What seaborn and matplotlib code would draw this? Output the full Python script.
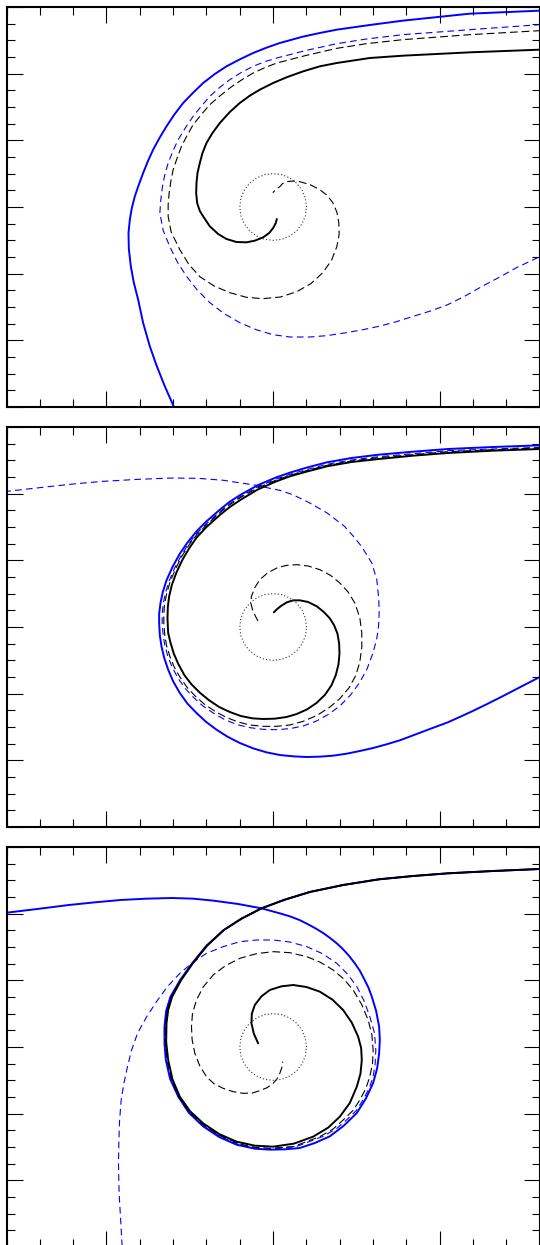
import matplotlib
matplotlib.use("Agg")
import matplotlib.pyplot as plt
from matplotlib.ticker import MultipleLocator
import seaborn as sns

# unit circle (dotted), same in every panel
circle_x = [1.0, 0.97, 0.87, 0.71, 0.5, 0.26, 0.0, -0.26, -0.5, -0.71, -0.87, -0.97,
            -1.0, -0.97, -0.87, -0.71, -0.5, -0.26, 0.0, 0.26, 0.5, 0.71, 0.87, 0.97, 1.0]
circle_y = [0.0, 0.26, 0.5, 0.71, 0.87, 0.97, 1.0, 0.97, 0.87, 0.71, 0.5, 0.26,
            0.0, -0.26, -0.5, -0.71, -0.87, -0.97, -1.0, -0.97, -0.87, -0.71, -0.5, -0.26, 0.0]

# ---- panel 1 ----
p1_ksolid_x = [8.3, 8.0, 5.9, 3.90, 2.90, 1.91, 1.40, 0.90, 0.40, 0.0, -0.40, -0.70, -1.0,
               -1.30, -1.60, -1.82, -2.0, -2.12, -2.20, -2.27, -2.30, -2.31, -2.28, -2.20, -2.10,
               -1.90, -1.65, -1.40, -1.10, -0.80, -0.55, -0.30, -0.12, 0.0, 0.08, 0.11]
p1_ksolid_y = [4.74, 4.72, 4.64, 4.54, 4.47, 4.32, 4.22, 4.07, 3.89, 3.72, 3.52, 3.34, 3.12,
               2.85, 2.52, 2.22, 1.92, 1.62, 1.32, 1.02, 0.72, 0.42, 0.12, -0.12, -0.28,
               -0.58, -0.81, -0.96, -1.05, -1.06, -1.01, -0.91, -0.78, -0.63, -0.48, -0.36]
p1_kdash_x = [8.3, 8.0, 5.9, 3.89, 2.8, 1.91, 1.0, 0.11, -0.25, -0.60, -0.95, -1.30, -1.60, -1.90,
              -2.15, -2.40, -2.58, -2.75, -2.88, -3.00, -3.07, -3.12, -3.15, -3.15, -3.06, -2.80,
              -2.53, -2.20, -1.77, -1.30, -0.80, -0.31, 0.22, 0.71, 1.13, 1.49, 1.75, 1.91, 1.98,
              1.97, 1.91, 1.79, 1.62, 1.40, 1.11, 0.80, 0.60, 0.41, 0.28, 0.20, 0.08, -0.01]
p1_kdash_y = [5.30, 5.29, 5.17, 5.02, 4.90, 4.76, 4.55, 4.32, 4.18, 4.02, 3.81, 3.57, 3.33, 3.07,
              2.78, 2.47, 2.15, 1.82, 1.47, 1.12, 0.77, 0.42, 0.07, -0.28, -0.75, -1.28,
              -1.72, -2.09, -2.37, -2.57, -2.71, -2.75, -2.70, -2.54, -2.30, -1.97, -1.60, -1.19,
              -0.82, -0.47, -0.15, 0.13, 0.35, 0.52, 0.67, 0.76, 0.78, 0.76, 0.70, 0.61, 0.52, 0.43]
p1_bdash_x = [8.3, 8.0, 5.9, 3.89, 2.8, 1.91, 1.0, 0.11, -0.25, -0.60, -0.95, -1.30, -1.60, -1.90,
              -2.15, -2.40, -2.63, -2.85, -3.01, -3.15, -3.25, -3.32, -3.37, -3.40, -3.30, -3.10,
              -2.87, -2.59, -2.27, -1.90, -1.47, -1.00, -0.51, -0.01, 0.50, 1.10, 1.60, 2.14,
              2.65, 3.17, 3.70, 4.20, 4.72, 5.24, 5.76, 6.27, 6.80, 7.30, 8.0, 8.3]
p1_bdash_y = [5.48, 5.47, 5.32, 5.17, 5.04, 4.90, 4.70, 4.47, 4.36, 4.22, 4.04, 3.82, 3.59, 3.32,
              3.03, 2.72, 2.38, 2.02, 1.67, 1.32, 0.97, 0.62, 0.22, -0.18, -0.70, -1.19,
              -1.66, -2.09, -2.50, -2.87, -3.20, -3.47, -3.68, -3.83, -3.90, -3.90, -3.86, -3.78,
              -3.69, -3.58, -3.44, -3.28, -3.12, -2.93, -2.67, -2.38, -2.10, -1.82, -1.49, -1.35]
p1_bsolid_x = [8.3, 8.0, 5.9, 3.89, 2.9, 1.91, 1.40, 0.89, 0.20, -0.20, -0.60, -1.00, -1.40, -1.75,
               -2.10, -2.40, -2.70, -2.96, -3.20, -3.41, -3.60, -3.76, -3.90, -4.03, -4.15, -4.24,
               -4.30, -4.34, -4.33, -4.27, -4.18, -4.05, -3.90, -3.70, -3.50, -3.25, -2.98, -2.90]
p1_bsolid_y = [5.90, 5.89, 5.80, 5.59, 5.46, 5.32, 5.22, 5.11, 4.92, 4.78, 4.62, 4.43, 4.22, 3.99,
               3.72, 3.43, 3.12, 2.78, 2.42, 2.07, 1.72, 1.37, 1.02, 0.67, 0.32, -0.03,
               -0.38, -0.78, -1.25, -1.78, -2.27, -2.78, -3.48, -4.18, -4.75, -5.38, -5.99, -6.15]

# ---- panel 2 ----
p2_ksolid_x = [8.3, 8.0, 6.6, 5.24, 4.2, 3.17, 2.35, 1.61, 1.0, 0.5, 0.07, -0.47, -0.97, -1.30,
               -1.60, -2.00, -2.30, -2.52, -2.72, -2.90, -3.04, -3.12, -3.16, -3.17, -3.15, -3.08,
               -2.98, -2.85, -2.66, -2.45, -2.20, -1.92, -1.62, -1.30, -0.97, -0.62, -0.30, 0.05,
               0.40, 0.71, 1.02, 1.30, 1.55, 1.75, 1.88, 1.96, 1.99, 1.98, 1.93, 1.83, 1.70, 1.52,
               1.31, 1.05, 0.80, 0.60, 0.41, 0.25, 0.12, 0.02]
p2_ksolid_y = [5.35, 5.34, 5.29, 5.22, 5.14, 5.04, 4.95, 4.82, 4.66, 4.52, 4.36, 4.12, 3.82, 3.60,
               3.36, 3.00, 2.68, 2.36, 2.02, 1.64, 1.26, 0.92, 0.60, 0.25, -0.18, -0.47,
               -0.80, -1.10, -1.45, -1.72, -1.97, -2.20, -2.40, -2.55, -2.67, -2.74, -2.76, -2.75,
               -2.70, -2.61, -2.47, -2.28, -2.04, -1.75, -1.44, -1.12, -0.80, -0.50, -0.20, 0.05,
               0.26, 0.45, 0.62, 0.75, 0.80, 0.80, 0.74, 0.64, 0.54, 0.44]
p2_kdash_x = [8.3, 8.0, 6.6, 5.24, 4.2, 3.17, 2.35, 1.61, 1.0, 0.5, 0.07, -0.47, -0.97, -1.30,
              -1.60, -2.00, -2.30, -2.54, -2.74, -2.93, -3.09, -3.19, -3.26, -3.28, -3.28, -3.25,
              -3.20, -3.10, -2.97, -2.80, -2.59, -2.35, -2.07, -1.76, -1.43, -1.08, -0.70, -0.30,
              0.10, 0.50, 0.90, 1.30, 1.68, 2.0, 2.28, 2.48, 2.60, 2.66, 2.66, 2.60, 2.45, 2.25,
              2.0, 1.72, 1.40, 1.05, 0.71, 0.40, 0.11, -0.17, -0.40, -0.55, -0.65, -0.67, -0.62,
              -0.53, -0.42]
p2_kdash_y = [5.38, 5.37, 5.32, 5.26, 5.17, 5.08, 4.98, 4.85, 4.69, 4.55, 4.40, 4.17, 3.89, 3.67,
              3.43, 3.06, 2.76, 2.44, 2.12, 1.74, 1.36, 1.02, 0.69, 0.37, 0.10, -0.25,
              -0.55, -0.88, -1.20, -1.50, -1.80, -2.06, -2.31, -2.52, -2.70, -2.84, -2.94, -2.98,
              -2.98, -2.94, -2.83, -2.66, -2.42, -2.15, -1.82, -1.45, -1.05, -0.60, -0.18, 0.28,
              0.72, 1.05, 1.32, 1.55, 1.72, 1.83, 1.87, 1.85, 1.77, 1.62, 1.42, 1.18, 0.92, 0.72,
              0.52, 0.32, 0.12]
p2_bdash_x = [8.3, 8.0, 6.6, 5.24, 4.2, 3.17, 2.35, 1.61, 1.0, 0.5, 0.07, -0.47, -0.97, -1.30,
              -1.60, -2.00, -2.30, -2.56, -2.76, -2.96, -3.12, -3.23, -3.30, -3.33, -3.33, -3.30,
              -3.25, -3.16, -3.03, -2.86, -2.65, -2.40, -2.12, -1.80, -1.45, -1.08, -0.70, -0.30,
              0.11, 0.50, 0.90, 1.30, 1.68, 2.02, 2.33, 2.60, 2.82, 2.98, 3.10, 3.16, 3.18, 3.17,
              3.11, 2.96, 2.65, 2.40, 2.14, 1.62, 1.10, 0.59, 0.20, -0.14, -0.55, -0.97, -1.48,
              -2.25, -3.03, -4.05, -5.10, -5.90, -6.65, -7.99, -8.3]
p2_bdash_y = [5.40, 5.39, 5.34, 5.29, 5.20, 5.11, 5.01, 4.88, 4.72, 4.58, 4.43, 4.20, 3.92, 3.70,
              3.46, 3.10, 2.80, 2.46, 2.14, 1.76, 1.38, 1.03, 0.70, 0.38, 0.10, -0.25,
              -0.55, -0.88, -1.20, -1.53, -1.83, -2.10, -2.36, -2.58, -2.78, -2.93, -3.02, -3.07,
              -3.08, -3.05, -2.97, -2.82, -2.61, -2.35, -2.03, -1.66, -1.25, -0.82, -0.40, 0.0,
              0.40, 0.82, 1.42, 1.92, 2.42, 2.73, 3.02, 3.42, 3.72, 3.97, 4.10, 4.17, 4.26, 4.32,
              4.40, 4.46, 4.47, 4.43, 4.37, 4.30, 4.22, 4.07, 4.03]
p2_bsolid_x = [8.3, 8.0, 6.6, 5.24, 4.2, 3.17, 2.35, 1.61, 1.0, 0.5, 0.07, -0.47, -0.97, -1.30,
               -1.60, -2.00, -2.30, -2.58, -2.80, -3.02, -3.20, -3.31, -3.38, -3.42, -3.42, -3.40,
               -3.35, -3.27, -3.15, -3.00, -2.80, -2.57, -2.30, -2.02, -1.70, -1.37, -1.0, -0.60,
               -0.20, 0.20, 0.60, 1.00, 1.40, 1.80, 2.21, 2.60, 3.0, 3.40, 3.80, 4.20, 4.70, 5.24,
               5.62, 6.01, 6.40, 6.78, 7.40, 8.0, 8.3]
p2_bsolid_y = [5.46, 5.45, 5.40, 5.34, 5.26, 5.17, 5.07, 4.94, 4.78, 4.63, 4.48, 4.25, 3.97, 3.76,
               3.52, 3.17, 2.87, 2.52, 2.20, 1.80, 1.40, 1.05, 0.72, 0.40, 0.12, -0.25,
               -0.58, -0.92, -1.28, -1.63, -1.98, -2.30, -2.58, -2.84, -3.08, -3.29, -3.48, -3.64,
               -3.76, -3.84, -3.88, -3.90, -3.89, -3.86, -3.80, -3.72, -3.63, -3.52, -3.40, -3.25,
               -3.06, -2.86, -2.69, -2.51, -2.32, -2.13, -1.81, -1.50, -1.34]

# ---- panel 3 ----
p3_ksolid_x = [8.3, 8.0, 6.6, 5.24, 4.2, 3.17, 2.1, 1.10, 0.35, -0.35, -0.95, -1.48, -1.98, -2.41,
               -2.76, -3.03, -3.15, -3.20, -3.21, -3.15, -3.02, -2.80, -2.49, -2.10, -1.62, -1.10,
               -0.55, 0.0, 0.62, 1.20, 1.65, 2.0, 2.30, 2.51, 2.62, 2.66, 2.64, 2.55, 2.36, 2.10,
               1.78, 1.40, 1.00, 0.60, 0.25, -0.10, -0.35, -0.55, -0.64, -0.65, -0.58, -0.45]
p3_ksolid_y = [5.35, 5.34, 5.28, 5.21, 5.13, 5.03, 4.86, 4.65, 4.42, 4.16, 3.85, 3.51, 3.04, 2.51,
               2.01, 1.51, 1.11, 0.71, 0.15, -0.39, -0.97, -1.49, -1.93, -2.29, -2.61, -2.84,
               -2.96, -2.99, -2.90, -2.69, -2.42, -2.09, -1.68, -1.19, -0.80, -0.39, -0.03, 0.31,
               0.73, 1.11, 1.42, 1.66, 1.80, 1.86, 1.82, 1.71, 1.52, 1.26, 1.00, 0.71, 0.40, 0.11]
p3_kdash_x = [8.3, 8.0, 6.6, 5.24, 4.2, 3.17, 2.1, 1.10, 0.35, -0.35, -0.95, -1.48, -1.99, -2.42,
              -2.77, -3.05, -3.18, -3.23, -3.23, -3.17, -3.04, -2.83, -2.52, -2.12, -1.60, -1.0,
              -0.55, -0.10, 0.60, 1.40, 1.80, 2.10, 2.40, 2.60, 2.78, 2.90, 2.98, 3.00, 2.96,
              2.85, 2.66, 2.40, 2.12, 1.80, 1.42, 1.01, 0.50, 0.0, -0.50, -1.0, -1.43, -1.80,
              -2.10, -2.30, -2.42, -2.45, -2.43, -2.35, -2.20, -2.0, -1.78, -1.50, -1.20, -0.90,
              -0.62, -0.40, -0.18, 0.0, 0.12, 0.20, 0.26, 0.29]
p3_kdash_y = [5.35, 5.34, 5.28, 5.21, 5.13, 5.03, 4.86, 4.65, 4.42, 4.16, 3.85, 3.51, 3.04, 2.51,
              2.01, 1.51, 1.08, 0.61, 0.10, -0.39, -0.98, -1.51, -1.95, -2.32, -2.66, -2.91,
              -3.01, -3.04, -2.99, -2.69, -2.46, -2.19, -1.90, -1.59, -1.25, -0.89, -0.50, -0.09,
              0.38, 0.81, 1.27, 1.71, 2.04, 2.31, 2.54, 2.71, 2.83, 2.86, 2.80, 2.66, 2.44, 2.16,
              1.80, 1.41, 1.01, 0.61, 0.21, -0.19, -0.57, -0.89, -1.10, -1.24, -1.34, -1.39,
              -1.38, -1.31, -1.22, -1.09, -0.95, -0.79, -0.62, -0.44]
p3_bdash_x = [8.3, 8.0, 6.6, 5.24, 4.2, 3.17, 2.1, 1.10, 0.35, -0.35, -0.95, -1.48, -2.0, -2.43,
              -2.78, -3.07, -3.19, -3.24, -3.24, -3.19, -3.06, -2.84, -2.54, -2.14, -1.60, -1.0,
              -0.55, -0.10, 0.71, 1.50, 1.90, 2.21, 2.50, 2.70, 2.88, 3.00, 3.06, 3.08, 3.04,
              2.90, 2.73, 2.51, 2.23, 1.91, 1.48, 1.01, 0.50, 0.0, -0.50, -1.0, -1.50, -2.0,
              -2.42, -2.80, -3.18, -3.50, -3.80, -4.07, -4.25, -4.37, -4.48, -4.56, -4.61, -4.63,
              -4.64, -4.63, -4.61, -4.58, -4.53, -4.52]
p3_bdash_y = [5.35, 5.34, 5.28, 5.21, 5.13, 5.03, 4.86, 4.65, 4.42, 4.16, 3.85, 3.51, 3.04, 2.51,
              2.01, 1.51, 1.08, 0.61, 0.10, -0.39, -0.98, -1.50, -1.96, -2.34, -2.68, -2.94,
              -3.04, -3.07, -2.98, -2.68, -2.45, -2.18, -1.90, -1.58, -1.24, -0.89, -0.50, -0.09,
              0.42, 0.91, 1.38, 1.81, 2.19, 2.51, 2.80, 3.01, 3.15, 3.21, 3.21, 3.16, 3.01, 2.81,
              2.53, 2.21, 1.80, 1.36, 0.90, 0.41, -0.10, -0.59, -1.10, -1.59, -2.25, -2.89,
              -3.50, -4.09, -4.60, -5.09, -6.0, -6.2]
p3_bsolid_x = [8.3, 8.0, 6.6, 5.24, 4.2, 3.17, 2.1, 1.10, 0.35, -0.35, -0.95, -1.48, -2.0, -2.43,
               -2.79, -3.08, -3.21, -3.26, -3.26, -3.22, -3.09, -2.85, -2.53, -2.10, -1.62, -1.10,
               -0.55, -0.10, 0.35, 0.80, 1.25, 1.70, 2.12, 2.51, 2.78, 3.0, 3.12, 3.18, 3.20,
               3.18, 3.09, 2.96, 2.86, 2.73, 2.60, 2.45, 2.28, 2.10, 1.92, 1.72, 1.50, 1.27, 1.03,
               0.79, 0.50, 0.20, -0.35, -1.05, -1.79, -2.40, -3.03, -3.80, -4.58, -5.35, -6.13,
               -7.0, -7.99, -8.3]
p3_bsolid_y = [5.35, 5.34, 5.28, 5.21, 5.13, 5.03, 4.86, 4.65, 4.42, 4.16, 3.85, 3.51, 3.04, 2.51,
               2.01, 1.51, 1.08, 0.61, 0.10, -0.39, -0.96, -1.48, -1.97, -2.38, -2.70, -2.93,
               -3.05, -3.08, -3.07, -3.03, -2.88, -2.68, -2.36, -1.98, -1.55, -1.08, -0.64, -0.19,
               0.21, 0.61, 1.08, 1.51, 1.78, 2.04, 2.29, 2.51, 2.73, 2.93, 3.10, 3.26, 3.42, 3.56,
               3.69, 3.81, 3.92, 4.01, 4.16, 4.29, 4.39, 4.45, 4.47, 4.45, 4.41, 4.34, 4.26,
               4.15, 4.03, 4.00]

panels = [
    (p1_bsolid_x, p1_bsolid_y, p1_bdash_x, p1_bdash_y, p1_kdash_x, p1_kdash_y, p1_ksolid_x, p1_ksolid_y),
    (p2_bsolid_x, p2_bsolid_y, p2_bdash_x, p2_bdash_y, p2_kdash_x, p2_kdash_y, p2_ksolid_x, p2_ksolid_y),
    (p3_bsolid_x, p3_bsolid_y, p3_bdash_x, p3_bdash_y, p3_kdash_x, p3_kdash_y, p3_ksolid_x, p3_ksolid_y),
]

sns.set_style("white")

W, H = 540, 1245
fig = plt.figure(figsize=(W / 100, H / 100), dpi=100)
tops = [7, 427, 847]

for top, (bsx, bsy, bdx, bdy, kdx, kdy, ksx, ksy) in zip(tops, panels):
    ax = fig.add_axes([6.5 / W, (H - top - 400) / H, 533.3 / W, 400 / H])

    sns.lineplot(x=bsx, y=bsy, sort=False, estimator=None, color="#0000ff", lw=1.4, ax=ax)
    sns.lineplot(x=bdx, y=bdy, sort=False, estimator=None, color="#0000ff", lw=0.8,
                 linestyle=(0, (6, 3.8)), ax=ax)
    sns.lineplot(x=kdx, y=kdy, sort=False, estimator=None, color="black", lw=0.8,
                 linestyle=(0, (7, 3.5)), ax=ax)
    sns.lineplot(x=ksx, y=ksy, sort=False, estimator=None, color="black", lw=1.4, ax=ax)
    sns.lineplot(x=circle_x, y=circle_y, sort=False, estimator=None, color="#333333", lw=0.8,
                 linestyle=(0, (1, 2)), ax=ax)

    ax.set_xlim(-8, 8)
    ax.set_ylim(-6, 6)
    ax.xaxis.set_major_locator(MultipleLocator(5))
    ax.xaxis.set_minor_locator(MultipleLocator(1))
    ax.yaxis.set_major_locator(MultipleLocator(2))
    ax.yaxis.set_minor_locator(MultipleLocator(0.5))
    ax.tick_params(which="both", direction="in", top=True, right=True, bottom=True, left=True,
                   labelbottom=False, labelleft=False, color="black", width=0.8)
    ax.tick_params(which="major", length=11.5)
    ax.tick_params(which="minor", length=5.8)
    ax.set_xlabel("")
    ax.set_ylabel("")
    for s in ax.spines.values():
        s.set_linewidth(1.5)
        s.set_color("black")

fig.savefig("out.png", dpi=100)
